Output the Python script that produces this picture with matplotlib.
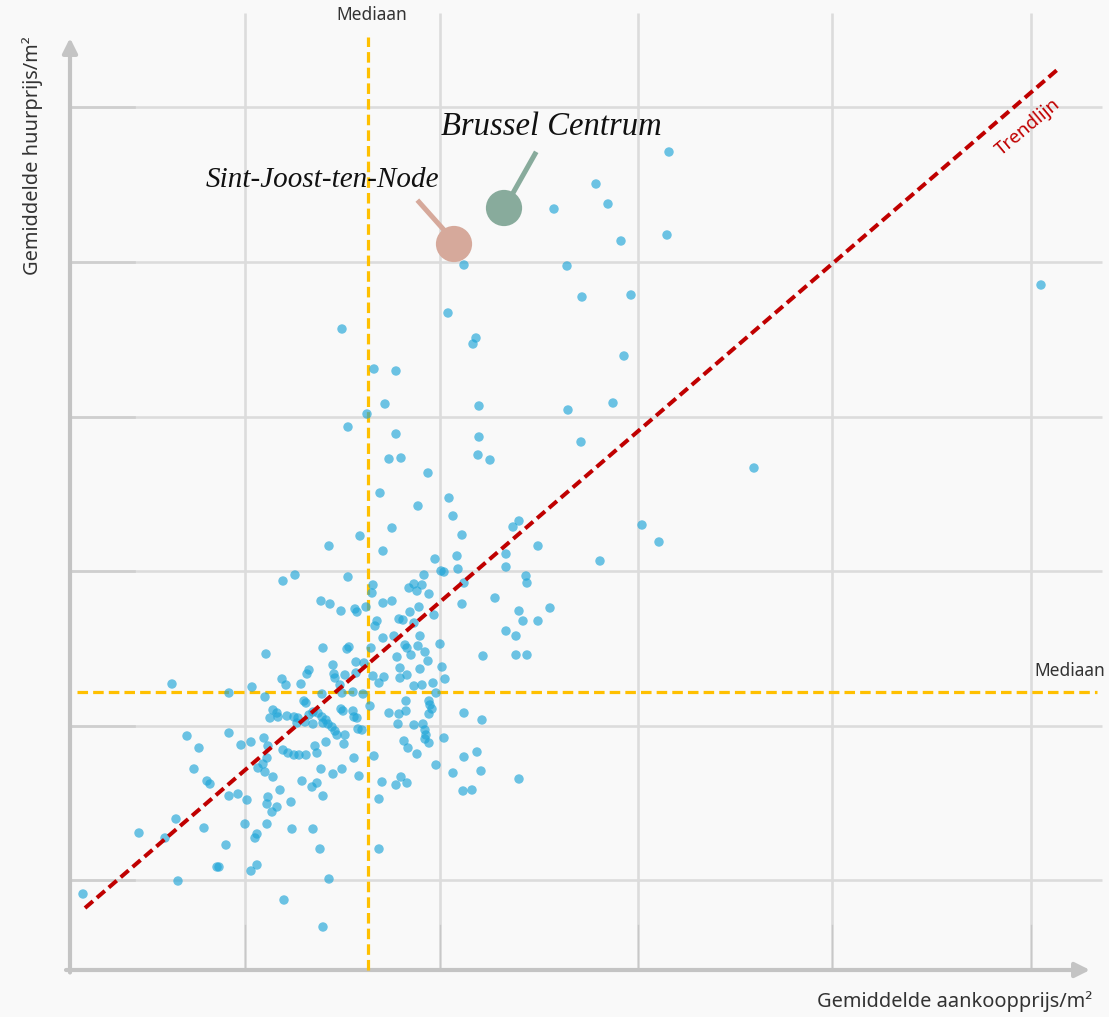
import matplotlib.pyplot as plt

koop_a = [4145, 3780, 3570, 3840, 3905, 4135, 3120, 3635, 3710, 3955, 6005]
huur_a = [20.36, 19.72, 19.22, 19.32, 18.58, 18.70, 18.10, 18.08, 17.46, 17.50, 17.70]

koop_b = [2510, 3040, 3180, 3165, 2670, 2780, 3920, 2725, 3195, 3640, 3865, 2635, 2540, 2780,
          3195, 3705, 2745, 2805, 3190, 3250, 2940, 4570, 2700, 3045, 2890, 3065, 2760, 2600,
          3110, 2445, 2715, 2975, 3085, 3365, 3395, 3490, 3330, 4010, 4095, 3800]
huur_b = [16.82, 17.14, 16.64, 16.52, 16.02, 15.98, 16.28, 15.32, 15.28, 15.20, 15.34, 15.12,
          14.86, 14.72, 14.66, 14.56, 14.22, 14.24, 14.30, 14.20, 13.94, 14.04, 13.54, 13.44,
          13.28, 13.08, 12.84, 12.68, 12.70, 12.48, 12.38, 12.22, 12.28, 12.86, 12.98, 12.48,
          12.32, 12.90, 12.56, 12.18]

koop_c = [2215, 2275, 2405, 2450, 2130, 2415, 2465, 1660, 2210, 2230, 2305, 2345, 2335, 2470,
          2475, 2060, 1945, 2125, 2410, 2320, 2330,
          3005, 3020, 3090, 3330, 2540, 2920, 2665, 2660, 2845, 2870, 2910, 2885, 2945, 3120,
          3430, 3435, 3275, 2505, 2575, 2585, 2630, 2715, 2760, 2850, 2895, 3110, 3395, 3550,
          2795, 2815, 2685, 2675, 2870, 2970, 3490, 3415, 3330, 3380, 2715, 2770, 2900, 2535,
          2545, 2655, 2825, 2835, 2890, 2855, 2925, 3000, 3215, 3380, 3435, 2785, 2580, 2940,
          2620, 2800, 2900, 3010, 2665, 2720, 2800, 2835, 3025, 2525, 2580, 2695, 2870, 2910,
          2965, 2500, 2565, 2510, 2615, 2980]
huur_c = [11.78, 11.90, 11.38, 11.32, 10.32, 10.44, 10.10, 9.72, 9.82, 9.70, 9.72, 10.00, 9.92,
          9.92, 9.84, 9.66, 9.54, 9.46, 9.52, 9.38, 9.34,
          11.98, 11.96, 12.02, 12.06, 11.86, 11.90, 11.70, 11.54, 11.64, 11.72, 11.70, 11.58,
          11.52, 11.74, 11.88, 11.74, 11.44, 11.18, 11.22, 11.16, 11.26, 11.34, 11.38, 11.16,
          11.26, 11.32, 11.18, 11.24, 11.02, 11.00, 10.98, 10.88, 10.94, 11.10, 10.98, 10.98,
          10.78, 10.68, 10.64, 10.68, 10.68, 10.42, 10.46, 10.44, 10.50, 10.44, 10.48, 10.30,
          10.36, 10.52, 10.28, 10.30, 10.30, 10.26, 10.16, 10.18, 10.14, 10.04, 10.02, 10.06,
          9.88, 9.86, 9.84, 9.90, 9.82, 9.90, 9.94, 9.74, 9.68, 9.70, 9.74, 9.70, 9.56, 9.54,
          9.52, 9.54]

koop_d = [2165, 2185, 2150, 2190, 2235, 2270, 2290, 2345, 2365, 2390, 2410, 2430, 2505, 2515,
          2565, 2570, 2585, 2285, 2325, 2365, 2415, 2440, 2460, 2475, 2485, 2590, 2610, 2525,
          2650, 2745, 2795, 2830, 2830, 2945, 2950, 2960, 2945, 3120, 3210, 2790, 2870, 2915,
          2925, 2930, 1945, 1735, 1795, 2005, 2055, 2120, 2140, 2215, 2240, 2270, 2295, 2330,
          2375, 2385, 2430, 2520, 2570, 2670, 2820, 2840, 2925, 2945, 3020, 2885, 3120, 3185,
          2510, 2595, 2980, 3065, 3205, 3395, 2710, 2805, 2780, 2835, 2695, 3115, 3160, 1770,
          1835, 1850, 2135, 2115, 2090, 2125, 2165, 2310, 2360, 2385, 2405, 2465, 1945, 1990,
          2035, 2140, 2135, 2200, 2255, 2415, 2185, 2160]
huur_d = [9.20, 9.14, 9.04, 9.06, 9.08, 9.06, 9.04, 9.10, 9.16, 9.14, 9.06, 9.00, 9.22, 9.18,
          9.18, 9.06, 9.04, 8.94, 8.96, 8.92, 8.94, 8.92, 8.86, 8.78, 8.70, 8.82, 8.80, 8.70,
          9.28, 9.14, 9.12, 9.18, 9.38, 9.38, 9.30, 9.22, 9.12, 9.14, 9.00, 8.92, 8.90, 8.92,
          8.80, 8.70, 8.74, 8.68, 8.44, 8.50, 8.56, 8.64, 8.48, 8.40, 8.34, 8.30, 8.30, 8.30,
          8.48, 8.34, 8.56, 8.52, 8.24, 8.28, 8.58, 8.44, 8.62, 8.54, 8.64, 8.32, 8.26, 8.36,
          8.02, 7.88, 8.10, 7.94, 7.98, 7.82, 7.76, 7.86, 7.70, 7.74, 7.42, 7.58, 7.60, 8.02,
          7.78, 7.72, 8.24, 8.12, 8.04, 7.96, 7.86, 7.78, 7.66, 7.74, 8.02, 7.92, 7.48, 7.52,
          7.40, 7.46, 7.32, 7.60, 7.36, 7.48, 7.26, 7.16]

koop_e = [1680, 1495, 1625, 1820, 1930, 2025, 2085, 2075, 2135, 2260, 2365, 2400, 1885, 1895,
          2085, 2055, 1690, 2445, 1215, 2220, 2415, 2695]
huur_e = [7.02, 6.74, 6.64, 6.84, 6.50, 6.92, 6.72, 6.64, 6.92, 6.82, 6.82, 6.42, 6.06, 6.06,
          6.10, 5.98, 5.78, 5.82, 5.52, 5.40, 4.86, 6.42]

koop = koop_a + koop_b + koop_c + koop_d + koop_e
huur = huur_a + huur_b + huur_c + huur_d + huur_e

# uitgelichte gemeenten
namen = ['Brussel Centrum', 'Sint-Joost-ten-Node']
koop_hl = [3320, 3070]
huur_hl = [19.24, 18.52]
kleur_hl = ['#88ab9c', '#d6a99b']

mediaan_koop = 2640
mediaan_huur = 9.57
trend_koop = [1225, 6085]
trend_huur = [5.24, 22.0]

raster_koop = [2025, 3000, 3990, 4960, 5955]
raster_huur = [5.8, 8.88, 11.98, 15.06, 18.16, 21.26]

sans = ['Noto Sans', 'DejaVu Sans']
serif = ['Liberation Serif', 'DejaVu Serif']

fig = plt.figure(figsize=(11.09, 10.17), dpi=100)
fig.patch.set_facecolor('#f9f9f9')
ax = fig.add_axes([0, 0, 1, 1])
ax.set_facecolor('#f9f9f9')
ax.set_xlim(800, 6345)
ax.set_ylim(3.06, 23.4)
ax.axis('off')

# raster
for k in raster_koop:
    ax.plot([k, k], [4.0, 23.14], color='#dcdcdc', lw=1.9, zorder=1, solid_capstyle='butt')
    ax.plot([k, k], [4.0, 4.9], color='#c8c8c8', lw=1.0, zorder=1)
for h in raster_huur:
    ax.plot([1150, 6310], [h, h], color='#dcdcdc', lw=1.9, zorder=1, solid_capstyle='butt')
    ax.plot([1150, 1470], [h, h], color='#cfcfcf', lw=1.9, zorder=1)

# assen met pijlen
ax.annotate('', xy=(1150, 22.64), xytext=(1150, 3.95),
            arrowprops=dict(arrowstyle='-|>', color='#c4c4c4', lw=3, mutation_scale=22,
                            shrinkA=0, shrinkB=0), zorder=2)
ax.annotate('', xy=(6250, 4.0), xytext=(1130, 4.0),
            arrowprops=dict(arrowstyle='-|>', color='#c4c4c4', lw=3, mutation_scale=22,
                            shrinkA=0, shrinkB=0), zorder=2)

# medianen
ax.plot([mediaan_koop, mediaan_koop], [4.0, 22.66], color='#ffc000', lw=2.3,
        linestyle=(0, (3.3, 1.6)), zorder=3)
ax.plot([1185, 6285], [mediaan_huur, mediaan_huur], color='#ffc000', lw=2.3,
        linestyle=(0, (3.3, 1.6)), zorder=3)
ax.text(mediaan_koop + 20, 23.1, 'Mediaan', ha='center', va='center', fontsize=12.5,
        color='#333333', family=sans)
ax.text(6150, 9.98, 'Mediaan', ha='center', va='center', fontsize=12.5,
        color='#333333', family=sans)

# punten
ax.scatter(koop, huur, s=46, color='#1fa5d8', alpha=0.65, edgecolors='none', zorder=4)

# trendlijn
ax.plot(trend_koop, trend_huur, color='#c00000', lw=2.9, linestyle=(0, (2.6, 1.3)), zorder=5)
ax.text(5940, 20.86, 'Trendlijn', rotation=40, rotation_mode='anchor', ha='center',
        va='center', fontsize=13.5, color='#c00000', family=sans)

# uitgelichte gemeenten
ax.plot([3475, 3365], [20.32, 19.54], color=kleur_hl[0], lw=3.6, zorder=6)
ax.plot([2895, 3020], [19.36, 18.8], color=kleur_hl[1], lw=3.6, zorder=6)
ax.scatter(koop_hl, huur_hl, s=680, color=kleur_hl, edgecolors='none', zorder=7)
ax.text(3005, 20.86, namen[0], ha='left', va='center', fontsize=23.5, style='italic',
        color='#111111', family=serif)
ax.text(1830, 19.8, namen[1], ha='left', va='center', fontsize=21, style='italic',
        color='#111111', family=serif)

# aslabels
ax.text(6260, 3.36, 'Gemiddelde aankoopprijs/m²', ha='right', va='center', fontsize=14.4,
        color='#333333', family=sans)
ax.text(965, 20.28, 'Gemiddelde huurprijs/m²', rotation=90, ha='center', va='center',
        fontsize=14.4, color='#333333', family=sans)

fig.savefig('out.png', dpi=100, facecolor=fig.get_facecolor())
